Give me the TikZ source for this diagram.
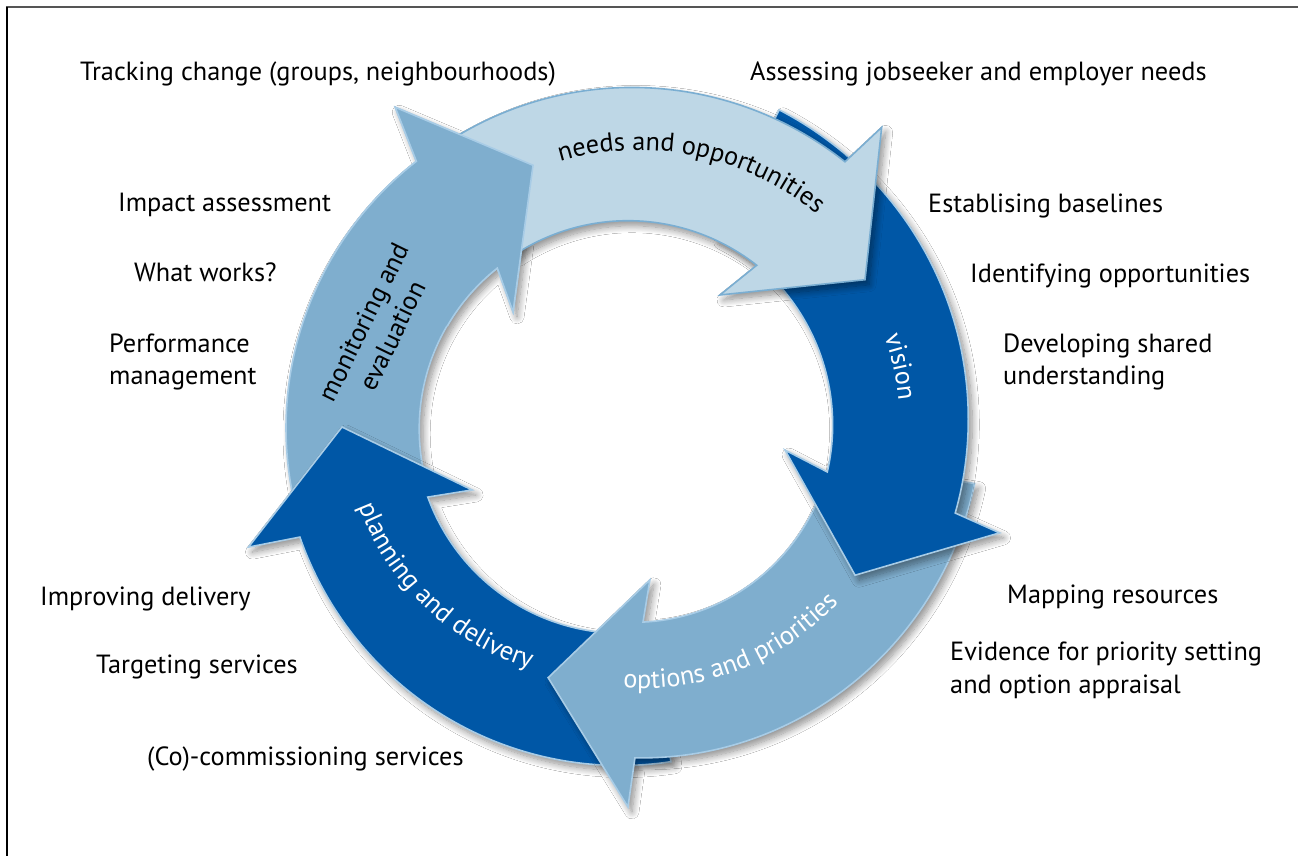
\documentclass[tikz,border=0pt]{standalone}
\usepackage{fontspec}
\setmainfont{PT Sans}
\usetikzlibrary{decorations.text,shadows.blur}

\definecolor{ringlight}{HTML}{BED7E6}
\definecolor{ringmid}{HTML}{7FAECE}
\definecolor{ringdark}{HTML}{0057A6}
\definecolor{edgemid}{HTML}{7AAED2}
\definecolor{edgelight}{HTML}{A8CCE6}
\definecolor{framegray}{HTML}{555555}

\newcommand\arrowfont{\fontsize{26.3}{31}\selectfont}

% one curved block arrow of the cycle, running clockwise around the origin
% #1 style, #2 tail angle, #3/#4 outer/inner angle where the head starts,
% #5->#6 outer radius tail->head, #7->#8 inner radius tail->head, #9 head points
\newcommand\ringarrow[9]{%
  \path[#1]
    plot[domain=#2:#3, samples=70] (\x:{#5+(#6-#5)*(\x-(#2))/((#3)-(#2))})
    -- #9 --
    plot[domain=#4:#2, samples=70] (\x:{#7+(#8-#7)*(\x-(#2))/((#4)-(#2))})
    -- cycle;}

\tikzset{
  cyclearrow/.style={line width=1.6pt, line join=miter,
    blur shadow={shadow xshift=4pt, shadow yshift=-5pt,
      shadow blur radius=7pt, shadow blur steps=12, shadow opacity=45}},
  needsarrow/.style={cyclearrow, fill=ringlight, draw=edgemid},
  darkarrow/.style={cyclearrow, fill=ringdark, draw=edgelight},
  midarrow/.style={cyclearrow, fill=ringmid, draw=edgelight},
  sidelabel/.style={font=\fontsize{26.3}{32.5}\selectfont, text=black,
    inner sep=0pt, anchor=base west, align=left},
  arclabel/.style={decorate, decoration={text along path, text align=center}},
}

\begin{document}
\begin{tikzpicture}[x=1pt, y=1pt]
  \useasboundingbox (-624,-428) rectangle (674,428);
  \fill[white] (-624,-428) rectangle (674,428);

  % frame
  \draw[framegray, line width=2pt] (-618,421) -- (674,421);
  \draw[black, line width=1.5pt] (-617,421) -- (-617,-428);

  % the five arrows; each head lies over the next tail
  \ringarrow{midarrow}{195}{127.9}{128.4}{338}{338}{205}{204}
    {(125.5:394) -- (109.1:278) -- (133.7:160.6)}
  \ringarrow{darkarrow}{-82}{-161.4}{-160.6}{337}{342}{205}{208}
    {(-162.4:394) -- (-180.2:282) -- (-157.8:164)}
  \ringarrow{midarrow}{-9}{-88.1}{-84.4}{355}{330}{209}{195}
    {(-89.4:379) -- (-106.9:261) -- (-80.3:154)}
  \ringarrow{darkarrow}{64}{-14.4}{-12.2}{354}{342}{212}{208}
    {(-15.6:390) -- (-32.5:274) -- (-7.8:162.5)}
  \ringarrow{needsarrow}{122}{50.3}{50.8}{336}{346}{205}{210}
    {(49.4:396) -- (31.6:283) -- (54.2:164)}

  % head of the monitoring arrow, laid again over the tail of the needs arrow
  \fill[ringmid] (150:338) arc[start angle=150, end angle=127.9, radius=338]
    -- (125.5:394) -- (109.1:278) -- (133.7:160.6) -- (128.4:204)
    arc[start angle=128.4, end angle=150, radius=204] -- cycle;
  \draw[edgelight, line width=1.6pt, line join=miter]
    (150:338) arc[start angle=150, end angle=127.9, radius=338]
    -- (125.5:394) -- (109.1:278) -- (133.7:160.6) -- (128.4:204)
    arc[start angle=128.4, end angle=150, radius=204];

  % labels inside the arrows
  \path[arclabel, decoration={text={|\arrowfont|needs and opportunities}}]
    plot[domain=113:39, samples=80] (\x:{274+14*(\x-104.5)/(48-104.5)});
  \path[arclabel, decoration={text={|\arrowfont\color{white}|vision}}]
    (27:276) arc[start angle=27, end angle=-2, radius=276];
  \path[arclabel, decoration={text={|\arrowfont\color{white}|options and priorities}}]
    plot[domain=-101:-29, samples=80] (\x:{259+(\x+92)/3});
  \path[arclabel, decoration={text={|\arrowfont\color{white}|planning and delivery}}]
    plot[domain=-173:-101, samples=80] (\x:{276-(\x+161)*17/48});
  \node[font=\fontsize{26.3}{32}\selectfont, align=center, rotate=64, inner sep=0pt]
    (monitor) at (-246,99) {monitoring and\\evaluation};

  % labels around the cycle
  \node[sidelabel] (track)   at (-544,347) {Tracking change (groups, neighbourhoods)};
  \node[sidelabel] (impact)  at (-506,216) {Impact assessment};
  \node[sidelabel] (works)   at (-490,146) {What works?};
  \node[sidelabel] (perf)    at (-515,43)  {Performance\\management};
  \node[sidelabel] (improve) at (-584,-177) {Improving delivery};
  \node[sidelabel] (target)  at (-528,-245) {Targeting services};
  \node[sidelabel] (commiss) at (-477,-337) {(Co)-commissioning services};

  \node[sidelabel] (assess)  at (126,347)  {Assessing jobseeker and employer needs};
  \node[sidelabel] (base)    at (304,215)  {Establising baselines};
  \node[sidelabel] (identify) at (346,145) {Identifying opportunities};
  \node[sidelabel] (develop) at (379,43)   {Developing shared\\understanding};
  \node[sidelabel] (mapping) at (383,-175) {Mapping resources};
  \node[sidelabel] (evidence) at (326,-265) {Evidence for priority setting\\and option appraisal};
\end{tikzpicture}
\end{document}
